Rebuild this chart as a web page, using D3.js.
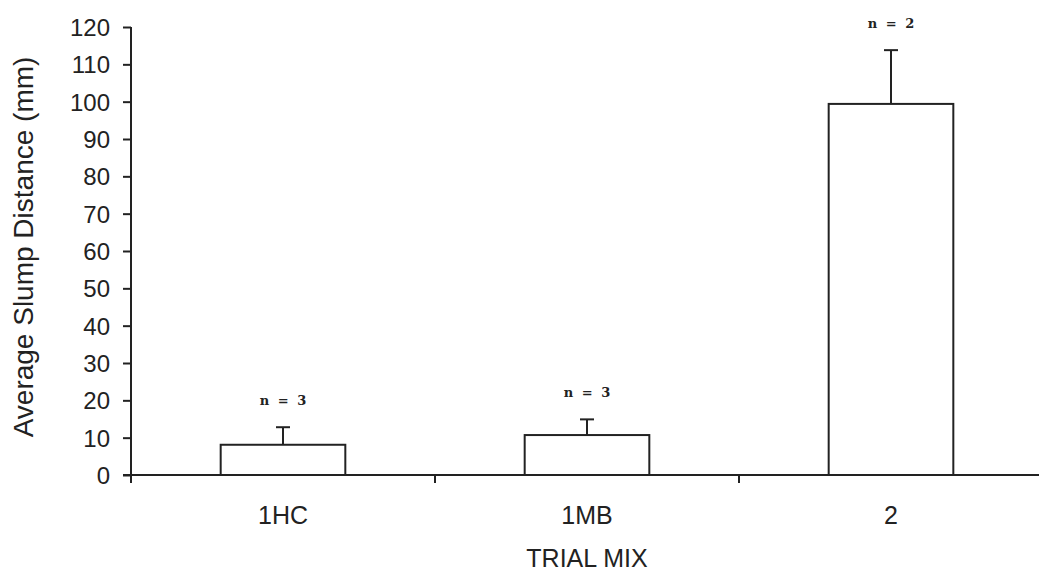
<!DOCTYPE html>
<html>
<head>
<meta charset="utf-8">
<script src="https://cdn.jsdelivr.net/npm/d3@7"></script>
<style>
  html, body { margin: 0; padding: 0; background: #ffffff; }
  svg { display: block; }
</style>
</head>
<body>
<svg id="chart" width="1039" height="573"></svg>
<script>
// Trial mixes and their average slump distance (mm)
const categories = ["1HC", "1MB", "2"];
const meanSlump = [8.1, 10.7, 99.4];
const errorTop = [12.8, 14.9, 113.8];
const sampleLabels = ["n = 3", "n = 3", "n = 2"];
const yTicks = [0, 10, 20, 30, 40, 50, 60, 70, 80, 90, 100, 110, 120];

const ink = "#222222";
const sans = "Arial, 'Liberation Sans', sans-serif";
const svg = d3.select("#chart");

const margin = { left: 131, right: -4, top: 27, bottom: 98 };
const width = 1039, height = 573;

const x = d3.scaleBand()
  .domain(categories)
  .range([margin.left, width - margin.right])
  .paddingInner(0)
  .paddingOuter(0);

const y = d3.scaleLinear()
  .domain([0, 120])
  .range([height - margin.bottom, margin.top]);

const barWidth = x.bandwidth() * 0.41;

// Bars
svg.append("g").selectAll("rect")
  .data(categories)
  .join("rect")
  .attr("x", (d) => x(d) + x.bandwidth() / 2 - barWidth / 2)
  .attr("y", (d, i) => y(meanSlump[i]))
  .attr("width", barWidth)
  .attr("height", (d, i) => y(0) - y(meanSlump[i]))
  .attr("fill", "#ffffff")
  .attr("stroke", ink)
  .attr("stroke-width", 2);

// Upper error bars
const err = svg.append("g").attr("stroke", ink).attr("stroke-width", 2);
categories.forEach((c, i) => {
  const cx = x(c) + x.bandwidth() / 2;
  err.append("line")
    .attr("x1", cx).attr("x2", cx)
    .attr("y1", y(meanSlump[i])).attr("y2", y(errorTop[i]));
  err.append("line")
    .attr("x1", cx - 7).attr("x2", cx + 7)
    .attr("y1", y(errorTop[i])).attr("y2", y(errorTop[i]));
});

// Sample size labels
svg.append("g").selectAll("text")
  .data(categories)
  .join("text")
  .attr("x", (d) => x(d) + x.bandwidth() / 2)
  .attr("y", (d, i) => y(errorTop[i]) - 27)
  .attr("dy", "0.35em")
  .attr("text-anchor", "middle")
  .attr("font-family", "'DejaVu Serif', 'Liberation Serif', serif")
  .attr("font-weight", "bold")
  .attr("font-size", 13)
  .attr("word-spacing", 4)
  .attr("fill", ink)
  .text((d, i) => sampleLabels[i]);

// Y axis
const yAxis = svg.append("g")
  .attr("transform", `translate(${margin.left},0)`)
  .call(d3.axisLeft(y).tickValues(yTicks).tickSize(8).tickPadding(13).tickFormat(d3.format("d")));
yAxis.attr("font-family", sans).attr("font-size", 24);
yAxis.select(".domain").attr("stroke", ink).attr("stroke-width", 2).attr("d", `M0,${y(120)}V${y(0)}`);
yAxis.selectAll(".tick line").attr("stroke", ink).attr("stroke-width", 2);
yAxis.selectAll(".tick text").attr("fill", ink).attr("dy", "0.36em");

// X axis with ticks at category boundaries
const xAxisG = svg.append("g").attr("transform", `translate(0,${y(0)})`);
xAxisG.append("line")
  .attr("x1", margin.left - 8).attr("x2", width)
  .attr("y1", 0).attr("y2", 0)
  .attr("stroke", ink).attr("stroke-width", 2);
const boundaries = categories.map((c) => x(c));
xAxisG.selectAll("line.tick")
  .data(boundaries)
  .join("line")
  .attr("class", "tick")
  .attr("x1", (d) => d).attr("x2", (d) => d)
  .attr("y1", 0).attr("y2", 8)
  .attr("stroke", ink).attr("stroke-width", 2);
xAxisG.selectAll("text")
  .data(categories)
  .join("text")
  .attr("x", (d) => x(d) + x.bandwidth() / 2)
  .attr("y", 49)
  .attr("text-anchor", "middle")
  .attr("font-family", sans)
  .attr("font-size", 25)
  .attr("fill", ink)
  .text((d) => d);

// Axis titles
svg.append("text")
  .attr("transform", "translate(33,247) rotate(-90)")
  .attr("text-anchor", "middle")
  .attr("font-family", sans)
  .attr("font-size", 28)
  .attr("fill", ink)
  .text("Average Slump Distance (mm)");

svg.append("text")
  .attr("x", x("1MB") + x.bandwidth() / 2)
  .attr("y", 567)
  .attr("text-anchor", "middle")
  .attr("font-family", sans)
  .attr("font-size", 25)
  .attr("fill", ink)
  .text("TRIAL MIX");
</script>
</body>
</html>
